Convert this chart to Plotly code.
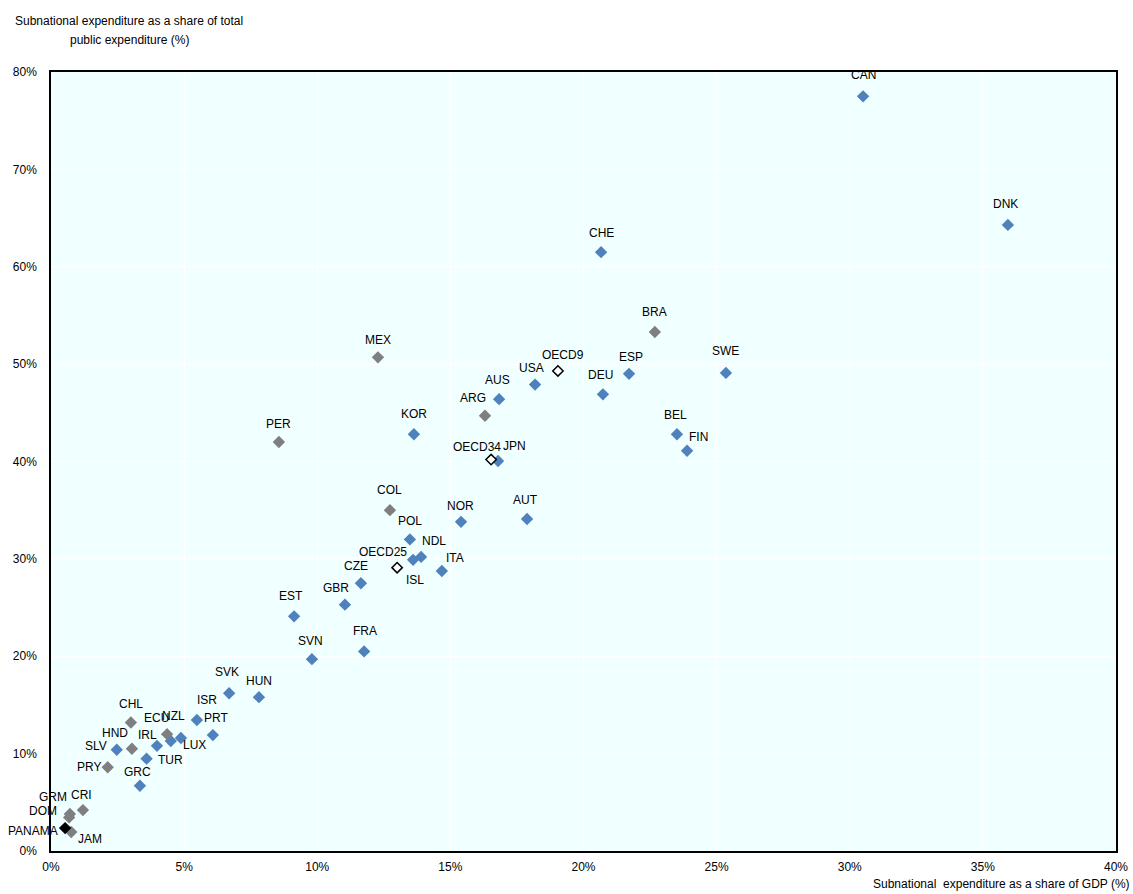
import plotly.graph_objects as go

countries = ["CAN", "DNK", "CHE", "BRA", "MEX", "SWE", "ESP", "OECD9", "USA", "DEU",
             "AUS", "ARG", "KOR", "BEL", "FIN", "PER", "OECD34", "JPN", "COL", "AUT",
             "NOR", "POL", "NDL", "ISL", "OECD25", "ITA", "CZE", "GBR", "EST", "SVN",
             "FRA", "SVK", "HUN", "ISR", "CHL", "ECU", "NZL", "LUX", "PRT", "IRL",
             "HND", "SLV", "TUR", "PRY", "GRC", "CRI", "GRM", "DOM", "PANAMA", "JAM"]
gdp_share = [30.5, 35.94, 20.66, 22.68, 12.28, 25.35, 21.71, 19.04, 18.18, 20.73,
             16.83, 16.3, 13.63, 23.51, 23.89, 8.56, 16.53, 16.79, 12.73, 17.88,
             15.4, 13.48, 13.9, 13.6, 13.0, 14.68, 11.64, 11.04, 9.13, 9.8,
             11.76, 6.69, 7.81, 5.48, 3.0, 4.36, 4.5, 4.88, 6.08, 3.98,
             3.04, 2.47, 3.59, 2.13, 3.34, 1.2, 0.71, 0.68, 0.53, 0.76]
total_share = [77.5, 64.3, 61.5, 53.3, 50.7, 49.1, 49.0, 49.3, 47.9, 46.9,
               46.4, 44.7, 42.8, 42.8, 41.1, 42.0, 40.2, 40.05, 35.0, 34.1,
               33.8, 32.0, 30.2, 29.9, 29.1, 28.75, 27.5, 25.3, 24.1, 19.7,
               20.5, 16.2, 15.8, 13.45, 13.2, 12.0, 11.3, 11.6, 11.9, 10.8,
               10.5, 10.4, 9.48, 8.6, 6.7, 4.2, 3.8, 3.45, 2.35, 1.95]
group = ["oecd", "oecd", "oecd", "other", "other", "oecd", "oecd", "avg", "oecd", "oecd",
         "oecd", "other", "oecd", "oecd", "oecd", "other", "avg", "oecd", "other", "oecd",
         "oecd", "oecd", "oecd", "oecd", "avg", "oecd", "oecd", "oecd", "oecd", "oecd",
         "oecd", "oecd", "oecd", "oecd", "other", "other", "oecd", "oecd", "oecd", "oecd",
         "other", "oecd", "oecd", "other", "oecd", "other", "other", "other", "panama", "other"]

x_ticks = [0, 5, 10, 15, 20, 25, 30, 35, 40]
x_ticklabels = ["0%", "5%", "10%", "15%", "20%", "25%", "30%", "35%", "40%"]
y_ticks = [0, 10, 20, 30, 40, 50, 60, 70, 80]
y_ticklabels = ["0%", "10%", "20%", "30%", "40%", "50%", "60%", "70%", "80%"]

y_title_lines = ["Subnational expenditure as a share of total", "public expenditure (%)"]
x_title = "Subnational\u00a0 expenditure as a share of GDP (%)"

# label offsets in pixels (dx right, dy down)
label_dx = [0, -2, 0, 0, 0, 0, 2, 5, -4, -2,
            -2, -12, 0, -1, 11, 0, -14, 16, 0, -2,
            -1, 0, 13, 2, -14, 13, -5, -9, -3, -1,
            1, -2, 0, 10, 0, -11, 3, 14, 3, -9,
            -17, -21, 24, -19, -2, -1, -17, -26, -32, 19]
label_dy = [-21, -21, -19, -20, -17, -22, -17, -16, -17, -19,
            -19, -18, -20, -19, -14, -18, -13, -15, -20, -19,
            -16, -18, -16, 20, -16, -13, -17, -17, -20, -18,
            -20, -21, -16, -20, -18, -16, -25, 7, -17, -11,
            -16, -4, 1, 0, -14, -15, -17, -6, 3, 7]

FONT = "Liberation Sans, Arial, sans-serif"
styles = {
    "oecd": dict(color="#4F81BD", size=9.5, line=dict(width=0)),
    "other": dict(color="#7F7F7F", size=9.5, line=dict(width=0)),
    "panama": dict(color="#000000", size=9.5, line=dict(width=0)),
    "avg": dict(color="#FFFFFF", size=8, line=dict(width=1.5, color="#000000")),
}

fig = go.Figure()
for g in ["oecd", "other", "panama", "avg"]:
    idx = [i for i, v in enumerate(group) if v == g]
    fig.add_trace(go.Scatter(
        x=[gdp_share[i] for i in idx],
        y=[total_share[i] for i in idx],
        mode="markers",
        marker=dict(symbol="diamond", **styles[g]),
        text=[countries[i] for i in idx],
        showlegend=False,
        cliponaxis=False,
    ))

for i, c in enumerate(countries):
    fig.add_annotation(x=gdp_share[i], y=total_share[i], text=c, showarrow=False,
                       xshift=label_dx[i], yshift=-label_dy[i],
                       font=dict(family=FONT, size=12, color="#000000"))

for line, ys in zip(y_title_lines, [51, 32]):
    fig.add_annotation(xref="paper", yref="paper", x=0, y=1, xanchor="center", yanchor="middle",
                       xshift=78, yshift=ys, text=line, showarrow=False,
                       font=dict(family=FONT, size=12, color="#000000"))
fig.add_annotation(xref="paper", yref="paper", x=1, y=0, xanchor="right", yanchor="middle",
                   xshift=16, yshift=-33, text=x_title, showarrow=False,
                   font=dict(family=FONT, size=12, color="#000000"))

fig.update_layout(
    template="none",
    width=1133, height=894, autosize=False,
    margin=dict(l=51, r=17, t=72, b=43, pad=0, autoexpand=False),
    paper_bgcolor="#FFFFFF",
    plot_bgcolor="#F0FFFF",
    font=dict(family=FONT, size=12, color="#000000"),
    xaxis=dict(range=[0, 40], tickvals=x_ticks, ticktext=x_ticklabels, automargin=False,
               showgrid=True, gridcolor="#FFFFFF", gridwidth=1,
               showline=True, linecolor="#000000", linewidth=1.5, mirror=True,
               zeroline=False, ticks="outside", ticklen=4, tickcolor="rgba(0,0,0,0)"),
    yaxis=dict(range=[0, 80], tickvals=y_ticks, ticktext=y_ticklabels, automargin=False,
               showgrid=True, gridcolor="#FFFFFF", gridwidth=1,
               showline=True, linecolor="#000000", linewidth=1.5, mirror=True,
               zeroline=False, ticks="outside", ticklen=10, tickcolor="rgba(0,0,0,0)"),
)

fig.write_html("out.html", config={"displayModeBar": False, "responsive": False},
               post_script="document.body.style.margin='0';document.body.style.overflow='hidden';")
